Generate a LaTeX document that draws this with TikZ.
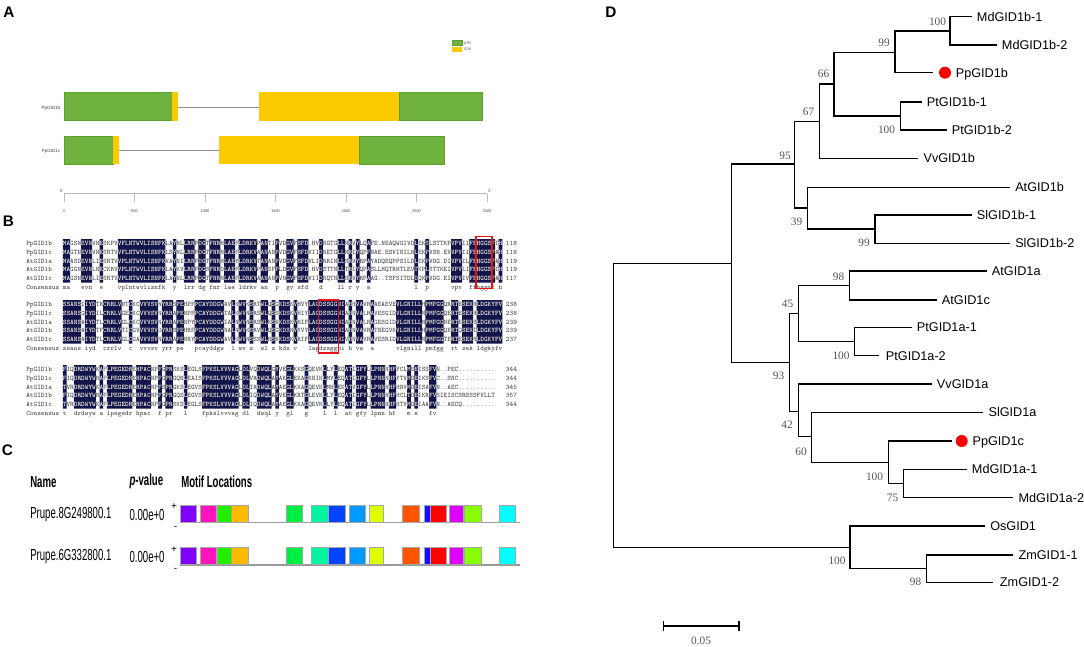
\documentclass[tikz,border=0pt]{standalone}
\usepackage{fontspec}
\setmainfont{Liberation Sans}
\newfontfamily\bsfont{Liberation Serif}
\newfontfamily\narrowfont[FakeStretch=0.6]{Liberation Sans}
\newfontfamily\alnfont{Latin Modern Mono}
\definecolor{navy}{RGB}{20,20,76}
\definecolor{seqgray}{RGB}{60,60,60}
\definecolor{utr}{RGB}{112,178,62}
\definecolor{utrb}{RGB}{92,160,48}
\definecolor{cds}{RGB}{252,202,0}
\definecolor{bsgray}{RGB}{85,85,85}
\definecolor{axgray}{RGB}{185,185,185}
\definecolor{boxred}{RGB}{232,20,26}
\definecolor{m1}{RGB}{128,0,255}
\definecolor{m2}{RGB}{255,17,190}
\definecolor{m3}{RGB}{34,238,0}
\definecolor{m4}{RGB}{255,187,0}
\definecolor{m5}{RGB}{0,238,68}
\definecolor{m6}{RGB}{0,245,160}
\definecolor{m7}{RGB}{0,68,255}
\definecolor{m8}{RGB}{0,153,255}
\definecolor{m9}{RGB}{221,255,0}
\definecolor{m10}{RGB}{255,85,0}
\definecolor{m11}{RGB}{17,17,255}
\definecolor{m12}{RGB}{255,0,0}
\definecolor{m13}{RGB}{221,0,255}
\definecolor{m14}{RGB}{136,255,0}
\definecolor{m15}{RGB}{0,255,255}
\newcommand\alnsize{\fontsize{5.172}{6}\selectfont}
\newlength\cwl
\newsavebox\cwbox
\sbox\cwbox{\alnfont\alnsize MMMMMMMMMM}
\setlength\cwl{\wd\cwbox}
\pgfmathsetmacro\cw{\cwl/7.5}
\pgfmathsetmacro\xz{26.3+10*\cw}

\newcommand\BlkOne{%
\node[seqtxt] (b1r1) at (26.3,245.6) {PpGID1b~~~MAGSNEVNVNESKPVVFLNTWVLISNFKLAYNLLRRPDGTFNRHLAEFLDRKVPANTIPVDGVFSFD.HVDRGTGLLNRVYLQAFE.NEAQWGIVDLEKSLSTTKPVPVIIFFHGGSFTH~118};
\node[seqtxt] (b1r2) at (26.3,254.3) {PpGID1c~~~MAGTNEVNVNESRTVVFLNTWVLISNFKLSYNLLRRPDGTFNRHLAEFLDRKVAANANPVDGVFSFDVIIDRETGLLNRIYQPFNAE.ESVINILNLEKPVSN.EVVPVIIFFHGGSFAH~118};
\node[seqtxt] (b1r3) at (26.3,263.0) {AtGID1a~~~MAASDEVNLIESRTVVPLNTWVLISNFKVAYNILRRPDGTFNRHLAEYLDRKVTANANPVDGVFSFDVLIDRRINLLSRVYRPAYADQEQPPSILDLEKPVDG.DIVPVILFFHGGSFAH~119};
\node[seqtxt] (b1r4) at (26.3,271.7) {AtGID1b~~~MAGGNEVNLNECKRVVPLNTWVLISNFKLAYKVLRRPDGSFNRDLAEFLDRKVPANSFPLDGVFSFD.HVDSTTNLLTRIYQPASLLHQTRHTLEVTKPLSTTKEIVPVLIFFHGGSFTH~119};
\node[seqtxt] (b1r5) at (26.3,280.4) {AtGID1c~~~MAGSNEVNLIESRTVVPLNTWVLISNFKLAYNLLRRPDGTFNRHLAEFLDRKVAANANPVNGVFSFDVIIDRQTNLLSRVYRPAAG..TSFSITDLDQKPVDG.EIVPVIVFFHGGSFAH~117};
\node[seqtxt] (b1c) at (26.3,289.1) {Consensus~ma~~~evn~~e~~~~vplntwvlisnfk~~y~~lrr~dg~fnr~lae~ldrkv~an~~p~~gv~sfd~~~d~~~~ll~r~y~~a~~~~~~~~~~~~l~~p~~~~~~vpv~~ffhggsf~h};
}
\newcommand\BlkTwo{%
\node[seqtxt] (b2r1) at (26.3,306.6) {PpGID1b~~~SSANSIIYDTRCRRLVNTCKCVVVSVNYRRSPEHPFPCAYDDGWAVLKWVKSRTWLQSGKDSKVHVYLAGDSSGGNIAHHVAVRAAEAEVEVLGNILLHPMFGGQRRTESEKRLDGKYFV~238};
\node[seqtxt] (b2r2) at (26.3,315.3) {PpGID1c~~~SSANSGIYDILCRRLVGECKCVVVSVNYRRAPENPFPCAYDDGWTALKWVNSRSWLQSSKDSKVHIYLAGDSSGGNIAHNVALRAVESGIDVLGNILLNPMFGGQERTESEKRLDGKYFV~238};
\node[seqtxt] (b2r3) at (26.3,324.0) {AtGID1a~~~SSANSAIYDTLCRRLVGLCKCVVVSVNYRRAPENPYPCAYDDGWIALNWVNSRSWLKSKKDSKVHIFLAGDSSGGNIAHNVALRAGESGIDVLGNILLNPMFGGNERTESEKSLDGKYFV~239};
\node[seqtxt] (b2r4) at (26.3,332.7) {AtGID1b~~~SSANSAIYDTFCRRLVTICGVVVVSVDYRRSPEHRFPCAYDDGWNALNWVKSRVWLQSGKDSNVYVYLAGDSSGGNIAHNVAVRATNEGVKVLGNILLHPMFGGQERTQSEKTLDGKYFV~239};
\node[seqtxt] (b2r5) at (26.3,341.4) {AtGID1c~~~SSANSAIYDTLCRRLVGLCGAVVVSVNYRRAPENRYPCAYDDGWAVLKWVNSSSWLRSKKDSKVRIFLAGDSSGGNIVHNVAVRAVESRIDVLGNILLNPMFGGTERTESEKRLDGKYFV~237};
\node[seqtxt] (b2c) at (26.3,350.1) {Consensus~ssans~iyd~~crrlv~~c~~vvvsv~yrr~pe~~~pcayddgw~~l~wv~s~~wl~s~kds~v~~~lagdssggni~h~va~~a~~~~~~vlgnill~pmfgg~~rt~sek~ldgkyfv};
}
\newcommand\BlkThree{%
\node[seqtxt] (b3r1) at (26.3,371.6) {PpGID1b~~~FIQDRDWYWKAFLPEGEDREHPACNPFGPRSKSLEGLSFPKSLVVVAGLDLVQDWQLGYVEGLKKSGQEVKLLYLEQATIGFYLLPNNNHFYCLMEEISSFVN..PEC..........~~~344};
\node[seqtxt] (b3r2) at (26.3,380.3) {PpGID1c~~~FIQDRDWYWRAFLPEGEDREHPACNPFGPRGQNLEAISFPKSLVVVAGLDLVRDWQLAYAKGLEKAGKNIKLMYLEQATIGFYLLPNNNHFYTVMDEIKSFVC..SNC..........~~~344};
\node[seqtxt] (b3r3) at (26.3,389.0) {AtGID1a~~~TVRDRDWYWKAFLPEGEDREHPACNPFSPRGKSLEGVSFPKSLVVVAGLDLIRDWQLAYAEGLKKAGQEVKLMHLEKATVGFYLLPNNNHFHNVMDEISAFVN..AEC..........~~~345};
\node[seqtxt] (b3r4) at (26.3,397.7) {AtGID1b~~~FIQDRDWYWRAFLPEGEDREHPACNPFGPRGQSLEGVSFPKSLVVVAGLDLIQDWQLAYVEGLKRTGLEVKLLYLEQATIGFYLLPNNNHFHCLTDEIKRFVSIEISCSRSSSFVLLT~~~357};
\node[seqtxt] (b3r5) at (26.3,406.4) {AtGID1c~~~TVRDRDWYWKAFLPEGEDREHPACNPFGPRSKSLEGLSFPKSLVVVAGLDLIQDWQLAYAEGLKKAGQEVKLLYLEQATIGFYLLPNNNHFHTVMDEIAAFVN..AECQ.........~~~344};
\node[seqtxt] (b3c) at (26.3,415.1) {Consensus~t~~drdwyw~a~lpegedr~hpac~~f~pr~~~l~~~~fpkslvvvag~dl~~dwql~y~~gl~~~g~~~~l~~l~~at~gfy~lpnn~hf~~~m~e~~~fv};
}
\newcommand\DrawBlk[4]{%
 \fill[navy] \foreach \a/\b in {#2} {(\xz+\a*\cw,#3) rectangle (\xz+\b*\cw+\cw,#4)};
 \begin{scope}[seqtxt/.append style={text=seqgray}] #1 \end{scope}
 \begin{scope}
  \clip \foreach \a/\b in {#2} {(\xz+\a*\cw,#3) rectangle (\xz+\b*\cw+\cw,#4)};
  \begin{scope}[seqtxt/.append style={text=white}] #1 \end{scope}
 \end{scope}
}

\begin{document}
\begin{tikzpicture}[x=0.75pt,y=-0.75pt,
  seqtxt/.style={anchor=base west, inner sep=0pt, outer sep=0pt, font=\alnfont\alnsize\frenchspacing},
  panel/.style={inner sep=0pt, font=\fontsize{11.5}{13}\selectfont\bfseries},
  tiny/.style={inner sep=0pt, font=\fontsize{3.4}{4}\selectfont, text=black!75},
  ticklab/.style={inner sep=0pt, font=\fontsize{3}{3.5}\selectfont, text=black!70},
  exonU/.style={fill=utr, draw=utrb, line width=0.5pt},
  exonC/.style={fill=cds},
  hdr/.style={anchor=west, inner sep=0pt, font=\narrowfont\fontsize{12}{14}\selectfont\bfseries},
  rowt/.style={anchor=west, inner sep=0pt, font=\narrowfont\fontsize{12}{14}\selectfont},
  strand/.style={inner sep=0pt, font=\fontsize{7.5}{8}\selectfont},
  motif/.style={draw=black!35, line width=0.35pt},
  tree/.style={line width=1pt, black},
  leaf/.style={anchor=west, inner sep=0pt, inner xsep=3.75pt, text height=6.8pt, text depth=0pt, font=\fontsize{9.5}{11}\selectfont},
  bs/.style={inner sep=0pt, text height=5.8pt, text depth=0pt, font=\bsfont\fontsize{8.5}{10}\selectfont, text=bsgray},
  dot/.style={circle, fill=red, inner sep=0pt, minimum size=9pt}
]
\useasboundingbox (0,0) rectangle (1084,646);
\fill[white] (0,0) rectangle (1084,646);

% ---------------- Panel A ----------------
\node[panel] (labA) at (8.8,12) {A};
\filldraw[fill=utr, draw=utrb, line width=0.3pt] (452,40.5) rectangle (462,45.5);
\fill[cds] (452,47) rectangle (462,52);
\node[tiny, anchor=west, font=\fontsize{2.6}{3}\selectfont] (legU) at (463.5,43) {UTR};
\node[tiny, anchor=west, font=\fontsize{2.6}{3}\selectfont] (legC) at (463.5,49.5) {CDS};

\coordinate (i1a) at (178,107); \coordinate (i1b) at (259,107);
\draw[black!45, line width=0.6pt] (i1a) -- (i1b);
\filldraw[exonU] (64,92) rectangle (172,120.5);
\fill[exonC] (172,92) rectangle (178,120.5);
\fill[exonC] (259,92) rectangle (399,120.5);
\filldraw[exonU] (399,92) rectangle (482,120.5);
\node[tiny, anchor=east] (gA1) at (60.5,108) {PpGID1b};

\coordinate (i2a) at (119,150); \coordinate (i2b) at (219,150);
\draw[black!45, line width=0.6pt] (i2a) -- (i2b);
\filldraw[exonU] (64,136) rectangle (113,164);
\fill[exonC] (113,136) rectangle (119,164);
\fill[exonC] (219,136) rectangle (359,164);
\filldraw[exonU] (359,136) rectangle (444,164);
\node[tiny, anchor=east] (gA2) at (60.5,151) {PpGID1c};

\coordinate (ax0) at (64,193.5); \coordinate (ax1) at (487,193.5);
\draw[axgray, line width=0.8pt] (ax0) -- (ax1);
\foreach \i/\l in {0/0,1/500,2/1000,3/1500,4/2000,5/2500,6/3000}{
  \draw[axgray, line width=0.6pt] (64+\i*70.5,193.5) -- (64+\i*70.5,202);
  \node[ticklab] (tk\i) at (64+\i*70.5,210.7) {\l};
}
\node[ticklab] (five) at (61.5,191.5) {5'};
\node[ticklab] (three) at (489.5,191.5) {3'};

% ---------------- Panel B ----------------
\node[panel] (labB) at (8.5,221.7) {B};
\DrawBlk{\BlkOne}{0/1,5/7,10/10,15/27,30/30,33/35,37/38,40/42,44/46,48/52,54/55,58/58,61/62,64/66,70/70,75/76,78/78,80/80,83/83,96/96,99/99,106/108,111/117,119/119}{239.15}{282.65}
\DrawBlk{\BlkTwo}{0/4,6/8,11/15,18/18,21/25,27/29,31/32,36/43,46/46,48/49,51/51,54/55,57/57,59/61,63/63,67/76,78/78,80/81,84/84,91/97,99/103,106/107,109/111,113/119}{300.15}{343.65}
\DrawBlk{\BlkThree}{0/0,3/8,10/10,12/18,20/23,26/26,28/29,33/33,38/47,49/50,53/56,58/58,61/62,66/66,71/71,74/74,77/78,80/82,84/87,89/90,94/94,96/96,100/101}{365.15}{408.65}
\draw[boxred, line width=1.1pt] (\xz+113*\cw-0.8,236.5) rectangle (\xz+117*\cw+0.8,288.5);
\draw[boxred, line width=1.1pt] (\xz+70*\cw-0.8,300) rectangle (\xz+75*\cw+0.8,353);

% ---------------- Panel C ----------------
\node[panel] (labC) at (7.5,450) {C};
\node[hdr] (hName) at (30,481.8) {Name};
\node[hdr] (hPv) at (129.3,481.8) {\itshape p\upshape -value};
\node[hdr] (hMot) at (181,481.8) {Motif Locations};
\node[rowt] (n1) at (30,514.5) {Prupe.8G249800.1};
\node[rowt] (p1) at (129.3,514.5) {0.00e+0};
\node[rowt] (n2) at (30,557) {Prupe.6G332800.1};
\node[rowt] (p2) at (129.3,557) {0.00e+0};
\node[strand] (s1p) at (174,507) {+};
\node[strand] (s1m) at (175.5,527.5) {-};
\node[strand] (s2p) at (174,549.5) {+};
\node[strand] (s2m) at (175.5,570) {-};
\foreach \yl/\yt/\k in {522.7/505.3/1, 565/547.5/2}{
  \coordinate (ls\k) at (180,\yl); \coordinate (le\k) at (520,\yl);
  \draw[black!40, line width=1.1pt] (ls\k) -- (le\k);
  \foreach \xa/\xb/\c in {180.3/196.7/m1, 200/216/m2, 217.3/231/m3, 231.7/248/m4, 286.7/302.7/m5, 311.3/328.3/m6, 328.3/345/m7, 349/365.7/m8, 369.3/383.3/m9, 402.3/419/m10, 424/430/m11, 430/446.7/m12, 449/463.3/m13, 464/481/m14, 499/515.7/m15}
    \filldraw[motif, fill=\c] (\xa,\yt) rectangle (\xb,\yl-0.3);
}

% ---------------- Panel D ----------------
\node[panel] (labD) at (611,12) {D};
\coordinate (R) at (613.3,405.3);
\coordinate (G) at (731.7,263.3);
\coordinate (NOs) at (850,547.3);
\coordinate (N95) at (794.3,164);
\coordinate (N93) at (789.3,362.7);
\coordinate (N67) at (819.3,121.7);
\coordinate (N39) at (807.3,208);
\coordinate (N66) at (834,84);
\coordinate (N99) at (895,52.3);
\coordinate (NMdb) at (950,31);
\coordinate (NPtb) at (900.7,116);
\coordinate (NSlb) at (875,229);
\coordinate (N45) at (798.3,313.3);
\coordinate (N42) at (798.3,411.7);
\coordinate (N98) at (849.3,285.5);
\coordinate (NPta) at (854.3,341.5);
\coordinate (N60) at (811.7,436.7);
\coordinate (N100c) at (888.3,462.3);
\coordinate (N75) at (903.3,483.5);
\coordinate (NZm) at (926.7,568.5);
\node[leaf] (MdGIDbA) at (971.7,16.7) {MdGID1b-1};
\node[leaf] (MdGIDbB) at (996.7,45) {MdGID1b-2};
\coordinate (ePpb) at (933,72.7);
\node[dot] (dotPpb) at (945,72.7) {};
\node[leaf, inner xsep=0pt] (PpGIDb) at (955.6,72.7) {PpGID1b};
\node[leaf] (PtGIDbA) at (921.7,102) {PtGID1b-1};
\node[leaf] (PtGIDbB) at (946.7,130) {PtGID1b-2};
\node[leaf] (VvGIDb) at (918.3,158.3) {VvGID1b};
\node[leaf] (AtGIDb) at (1010,187.3) {AtGID1b};
\node[leaf] (SlGIDbA) at (971.7,215) {SlGID1b-1};
\node[leaf] (SlGIDbB) at (1010,243.3) {SlGID1b-2};
\node[leaf] (AtGIDa) at (986.7,271) {AtGID1a};
\node[leaf] (AtGIDc) at (936.7,300) {AtGID1c};
\node[leaf] (PtGIDaA) at (911.7,327.3) {PtGID1a-1};
\node[leaf, inner xsep=5pt] (PtGIDaB) at (879,355.7) {PtGID1a-2};
\node[leaf] (VvGIDa) at (931.7,384) {VvGID1a};
\node[leaf] (SlGIDa) at (983.3,412.3) {SlGID1a};
\coordinate (ePpc) at (951.7,441);
\node[dot] (dotPpc) at (961.7,441) {};
\node[leaf, inner xsep=0pt] (PpGIDc) at (972.3,441) {PpGID1c};
\node[leaf] (MdGIDaA) at (966.7,469.3) {MdGID1a-1};
\node[leaf] (MdGIDaB) at (1013.3,497.7) {MdGID1a-2};
\node[leaf] (OsGID) at (985,526) {OsGID1};
\node[leaf] (ZmGIDA) at (1013.3,555) {ZmGID1-1};
\node[leaf, inner xsep=4.8pt] (ZmGIDB) at (993.3,582.3) {ZmGID1-2};
\draw[tree] (R) |- (G);
\draw[tree] (R) |- (NOs);
\draw[tree] (G) |- (N95);
\draw[tree] (G) |- (N93);
\draw[tree] (N95) |- (N67);
\draw[tree] (N95) |- (N39);
\draw[tree] (N67) |- (N66);
\draw[tree] (N67) |- (VvGIDb.west);
\draw[tree] (N66) |- (N99);
\draw[tree] (N66) |- (NPtb);
\draw[tree] (N99) |- (NMdb);
\draw[tree] (N99) |- (ePpb);
\draw[tree] (NMdb) |- (MdGIDbA.west);
\draw[tree] (NMdb) |- (MdGIDbB.west);
\draw[tree] (NPtb) |- (PtGIDbA.west);
\draw[tree] (NPtb) |- (PtGIDbB.west);
\draw[tree] (N39) |- (AtGIDb.west);
\draw[tree] (N39) |- (NSlb);
\draw[tree] (NSlb) |- (SlGIDbA.west);
\draw[tree] (NSlb) |- (SlGIDbB.west);
\draw[tree] (N93) |- (N45);
\draw[tree] (N93) |- (N42);
\draw[tree] (N45) |- (N98);
\draw[tree] (N45) |- (NPta);
\draw[tree] (N98) |- (AtGIDa.west);
\draw[tree] (N98) |- (AtGIDc.west);
\draw[tree] (NPta) |- (PtGIDaA.west);
\draw[tree] (NPta) |- (PtGIDaB.west);
\draw[tree] (N42) |- (VvGIDa.west);
\draw[tree] (N42) |- (N60);
\draw[tree] (N60) |- (SlGIDa.west);
\draw[tree] (N60) |- (N100c);
\draw[tree] (N100c) |- (ePpc);
\draw[tree] (N100c) |- (N75);
\draw[tree] (N75) |- (MdGIDaA.west);
\draw[tree] (N75) |- (MdGIDaB.west);
\draw[tree] (NOs) |- (OsGID.west);
\draw[tree] (NOs) |- (NZm);
\draw[tree] (NZm) |- (ZmGIDA.west);
\draw[tree] (NZm) |- (ZmGIDB.west);
\node[bs] (bs1) at (937.5,21.5) {100};
\node[bs] (bs2) at (884,43) {99};
\node[bs] (bs3) at (823.5,74) {66};
\node[bs] (bs4) at (886.5,130) {100};
\node[bs] (bs5) at (808.5,112) {67};
\node[bs] (bs6) at (785,155.5) {95};
\node[bs] (bs7) at (796.5,222) {39};
\node[bs] (bs8) at (864,243) {99};
\node[bs] (bs9) at (838.5,277) {98};
\node[bs] (bs10) at (787.5,304) {45};
\node[bs] (bs11) at (841,356) {100};
\node[bs] (bs12) at (778.5,376) {93};
\node[bs] (bs13) at (787,425) {42};
\node[bs] (bs14) at (801,452) {60};
\node[bs] (bs15) at (874.5,477) {100};
\node[bs] (bs16) at (892.5,498) {75};
\node[bs] (bs17) at (837,560.5) {100};
\node[bs] (bs18) at (915.5,582) {98};
\coordinate (sbL) at (663.3,626); \coordinate (sbR) at (739,626);
\draw[tree] (sbL) -- (sbR);
\draw[tree] (663.3,621) -- (663.3,631);
\draw[tree] (739,621) -- (739,631);
\node[bs] (sbt) at (701,640.5) {0.05};
\end{tikzpicture}
\end{document}
